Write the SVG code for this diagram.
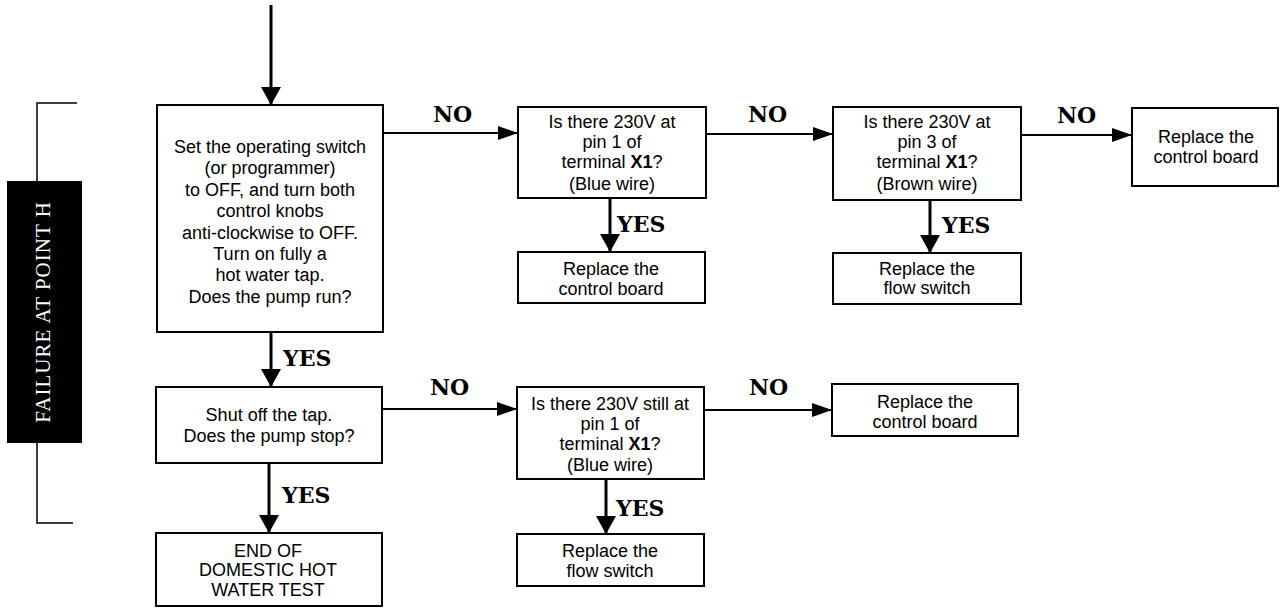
<svg xmlns="http://www.w3.org/2000/svg" width="1280" height="608" viewBox="0 0 1280 608">
<defs>
<style>
.box{fill:#fff;stroke:#000;stroke-width:2}
.t{font-family:"Liberation Sans",Arial,sans-serif;font-size:18px;fill:#000;text-anchor:middle}
.lbl{font-family:"DejaVu Serif","Liberation Serif",serif;font-weight:bold;font-size:22px;fill:#000}
.v{stroke:#000;stroke-width:3;fill:none;marker-end:url(#av)}
.h{stroke:#000;stroke-width:2;fill:none;marker-end:url(#ah)}
</style>
<marker id="av" markerUnits="userSpaceOnUse" viewBox="0 0 18 20" refX="18" refY="10" markerWidth="18" markerHeight="20" orient="auto"><path d="M0,0 L18,10 L0,20 z" fill="#000"/></marker>
<marker id="ah" markerUnits="userSpaceOnUse" viewBox="0 0 20 14" refX="20" refY="7" markerWidth="20" markerHeight="14" orient="auto"><path d="M0,0 L20,7 L0,14 z" fill="#000"/></marker>
</defs>
<rect width="1280" height="608" fill="#fff"/>

<g id="side-label">
<path d="M77,103 H37 V523 H73" fill="none" stroke="#000" stroke-width="1.5"/>
<rect x="7" y="181" width="75" height="262" fill="#000"/>
<text x="43" y="312" transform="rotate(-90 43 312)" text-anchor="middle" dominant-baseline="central" font-family="'Liberation Serif',serif" font-size="21" letter-spacing="1" fill="#fff">FAILURE AT POINT H</text>
</g>

<g id="connectors">
<line class="v" x1="271" y1="5" x2="271" y2="105"/>
<line class="h" x1="383" y1="133" x2="518" y2="133"/>
<line class="v" x1="610" y1="198" x2="610" y2="252"/>
<line class="h" x1="706" y1="134" x2="833" y2="134"/>
<line class="v" x1="930" y1="200" x2="930" y2="253"/>
<line class="h" x1="1021" y1="135" x2="1132" y2="135"/>
<line class="v" x1="271" y1="332" x2="271" y2="387"/>
<line class="v" x1="269" y1="463" x2="269" y2="533"/>
<line class="h" x1="382" y1="409" x2="517" y2="409"/>
<line class="v" x1="606" y1="479" x2="606" y2="534"/>
<line class="h" x1="704" y1="410" x2="832" y2="410"/>
<text class="lbl" x="433" y="122">NO</text>
<text class="lbl" x="748" y="122">NO</text>
<text class="lbl" x="1057" y="123">NO</text>
<text class="lbl" x="430" y="395">NO</text>
<text class="lbl" x="749" y="395">NO</text>
<text class="lbl" x="283" y="366">YES</text>
<text class="lbl" x="617" y="232">YES</text>
<text class="lbl" x="942" y="233">YES</text>
<text class="lbl" x="282" y="503">YES</text>
<text class="lbl" x="616" y="516">YES</text>
</g>

<g id="n-start">
<rect class="box" x="157" y="105" width="226" height="227"/>
<text class="t" x="270" y="153">Set the operating switch</text>
<text class="t" x="270" y="174.4">(or programmer)</text>
<text class="t" x="270" y="195.8">to OFF, and turn both</text>
<text class="t" x="270" y="217.2">control knobs</text>
<text class="t" x="270" y="238.6">anti-clockwise to OFF.</text>
<text class="t" x="270" y="260">Turn on fully a</text>
<text class="t" x="270" y="281.4">hot water tap.</text>
<text class="t" x="270" y="302.8">Does the pump run?</text>
</g>

<g id="n-pin1">
<rect class="box" x="518" y="107" width="188" height="91"/>
<text class="t" x="612" y="128">Is there 230V at</text>
<text class="t" x="612" y="148">pin 1 of</text>
<text class="t" x="612" y="168">terminal <tspan font-weight="bold">X1</tspan>?</text>
<text class="t" x="612" y="190">(Blue wire)</text>
</g>

<g id="n-board1">
<rect class="box" x="518" y="252" width="187" height="51"/>
<text class="t" x="611" y="275">Replace the</text>
<text class="t" x="611" y="295">control board</text>
</g>

<g id="n-pin3">
<rect class="box" x="833" y="107" width="188" height="93"/>
<text class="t" x="927" y="128">Is there 230V at</text>
<text class="t" x="927" y="148">pin 3 of</text>
<text class="t" x="927" y="168">terminal <tspan font-weight="bold">X1</tspan>?</text>
<text class="t" x="927" y="190">(Brown wire)</text>
</g>

<g id="n-flow1">
<rect class="box" x="833" y="253" width="188" height="51"/>
<text class="t" x="927" y="275">Replace the</text>
<text class="t" x="927" y="294">flow switch</text>
</g>

<g id="n-board2">
<rect class="box" x="1132" y="108" width="146" height="78"/>
<text class="t" x="1206" y="143">Replace the</text>
<text class="t" x="1206" y="163">control board</text>
</g>

<g id="n-shut">
<rect class="box" x="156" y="387" width="226" height="76"/>
<text class="t" x="269" y="421">Shut off the tap.</text>
<text class="t" x="269" y="442">Does the pump stop?</text>
</g>

<g id="n-end">
<rect class="box" x="156" y="533" width="226" height="73"/>
<text class="t" x="268" y="557">END OF</text>
<text class="t" x="268" y="576">DOMESTIC HOT</text>
<text class="t" x="268" y="596">WATER TEST</text>
</g>

<g id="n-still">
<rect class="box" x="517" y="387" width="187" height="92"/>
<text class="t" x="610" y="410">Is there 230V still at</text>
<text class="t" x="610" y="430">pin 1 of</text>
<text class="t" x="610" y="450">terminal <tspan font-weight="bold">X1</tspan>?</text>
<text class="t" x="610" y="471">(Blue wire)</text>
</g>

<g id="n-flow2">
<rect class="box" x="517" y="534" width="187" height="52"/>
<text class="t" x="610" y="557">Replace the</text>
<text class="t" x="610" y="577">flow switch</text>
</g>

<g id="n-board3">
<rect class="box" x="832" y="384" width="186" height="52"/>
<text class="t" x="925" y="408">Replace the</text>
<text class="t" x="925" y="428">control board</text>
</g>
</svg>
